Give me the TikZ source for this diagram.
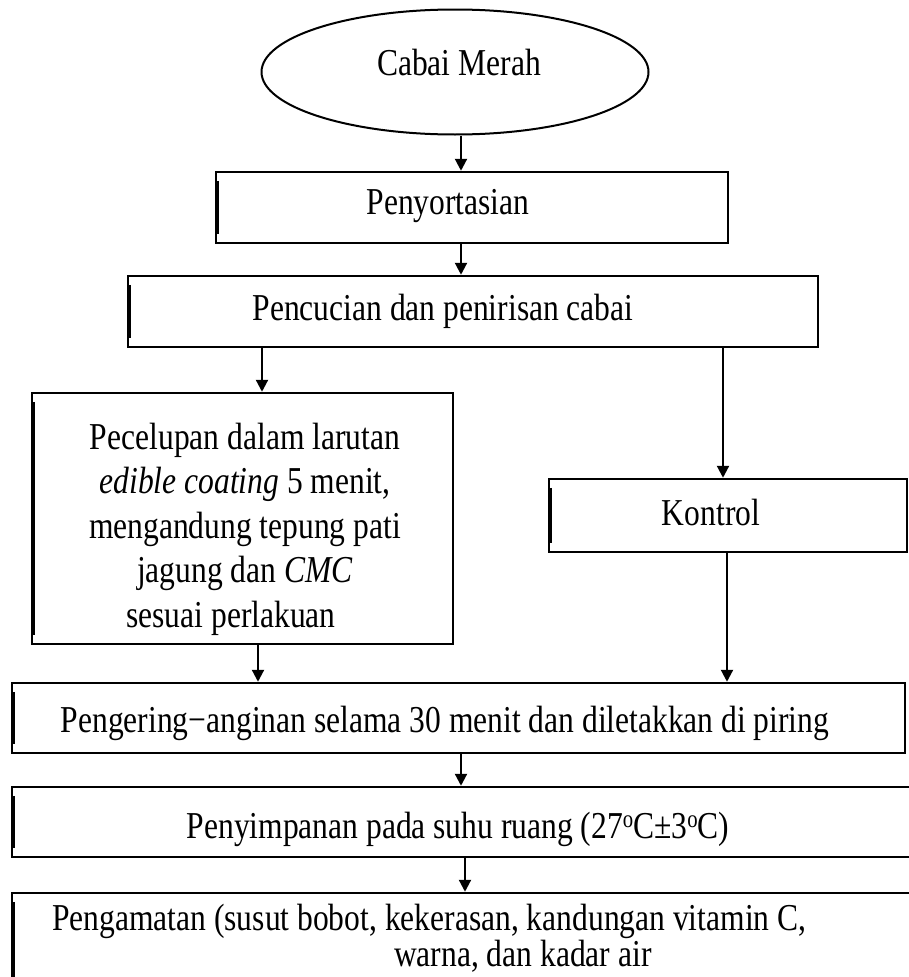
\documentclass[tikz,border=0pt]{standalone}
\usepackage{fontspec}
\setmainfont{Liberation Serif}[FakeStretch=0.83]
\usetikzlibrary{shapes.geometric,arrows.meta}

\newcommand{\derajat}{\raisebox{11pt}{\fontsize{25}{25}\selectfont o}}

\tikzset{
    kotak/.style={draw, line width=2.5pt, rectangle, inner sep=0pt},
    teks/.style={font=\fontsize{38}{44.5}\selectfont, inner sep=0pt, align=center},
    panah/.style={-{Triangle[length=12pt,width=12pt]}, line width=2.2pt},
}

\begin{document}
\begin{tikzpicture}[x=1pt, y=-1pt]
    \useasboundingbox (0,0) rectangle (909,977);
    \clip (0,0) rectangle (909,977);

    % Bahan awal
    \node[draw, ellipse, line width=2pt, minimum width=387, minimum height=125, inner sep=0pt] (cabai) at (455,72) {};
    \node[teks] (tcabai) at (459,63) {Cabai Merah};

    % Kotak proses
    \node[kotak, minimum width=512, minimum height=71] (sortasi) at (472,207.5) {};
    \node[kotak, minimum width=690, minimum height=71] (cuci) at (473,311.5) {};
    \node[kotak, minimum width=421, minimum height=251] (celup) at (242.5,518.5) {};
    \node[kotak, minimum width=358, minimum height=73] (kontrol) at (728,515.5) {};
    \node[kotak, minimum width=893, minimum height=70] (angin) at (458.5,718) {};
    \node[kotak, minimum width=998, minimum height=70] (simpan) at (511,822) {};
    \node[kotak, minimum width=1054, minimum height=157] (amati) at (539,971.5) {};

    % Teks
    \node[teks] (tsortasi) at (448,206) {Penyortasian};
    \node[teks] (tcuci) at (443,311) {Pencucian dan penirisan cabai};
    \node[teks] (tcelup) at (245,529) {Pecelupan dalam larutan\\
        \textit{edible coating} 5 menit,\\
        mengandung tepung pati\\
        jagung dan \textit{CMC}\\
        sesuai perlakuan\hspace*{28pt}};
    \node[teks] (tkontrol) at (711,512) {Kontrol};
    \node[teks] (tangin) at (445,723) {Pengering−anginan selama 30 menit dan diletakkan di piring};
    \node[teks] (tsimpan) at (458,829) {Penyimpanan pada suhu ruang (27\derajat C±3\derajat C)};
    \node[teks, font=\fontsize{38}{30}\selectfont, anchor=west, align=left] (tamati) at (52,938)
        {Pengamatan (susut bobot, kekerasan, kandungan vitamin C,\\
        \hspace*{342pt}warna, dan kadar air};

    % Garis tebal kiri
    \foreach \n in {sortasi, cuci, celup, kontrol, angin, simpan, amati} {
        \draw[line width=3pt] ([xshift=2.5pt,yshift=-10pt]\n.north west) -- ([xshift=2.5pt,yshift=10pt]\n.south west);
    }

    % Panah
    \draw[panah] ([xshift=6pt]cabai.south) -- ([xshift=-11pt]sortasi.north);
    \draw[panah] ([xshift=-11pt]sortasi.south) -- ([xshift=-12pt]cuci.north);
    \draw[panah] ([xshift=-211pt]cuci.south) -- ([xshift=19.5pt]celup.north);
    \draw[panah] ([xshift=250pt]cuci.south) -- ([xshift=-5pt]kontrol.north);
    \draw[panah] ([xshift=15.5pt]celup.south) -- ([xshift=-200.5pt]angin.north);
    \draw[panah] ([xshift=-1pt]kontrol.south) -- ([xshift=268.5pt]angin.north);
    \draw[panah] ([xshift=2.5pt]angin.south) -- ([xshift=-50pt]simpan.north);
    \draw[panah] ([xshift=-46pt]simpan.south) -- ([xshift=-74pt]amati.north);
\end{tikzpicture}
\end{document}
